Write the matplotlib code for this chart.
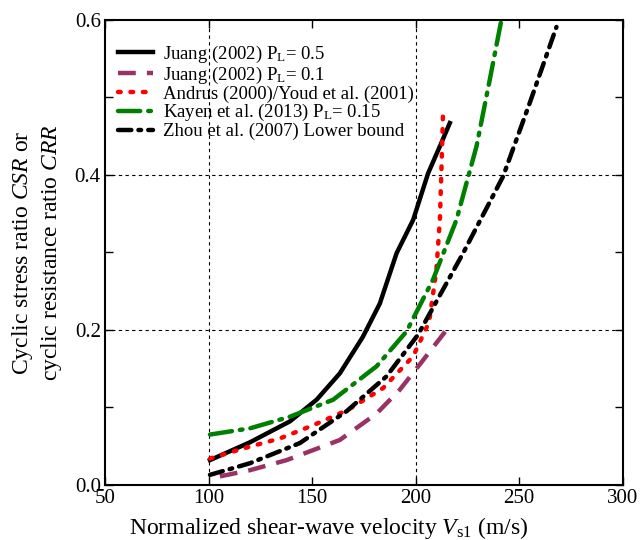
import matplotlib.pyplot as plt
from matplotlib.ticker import MultipleLocator

plt.rcParams['font.family'] = 'Liberation Serif'
plt.rcParams['mathtext.fontset'] = 'custom'
plt.rcParams['mathtext.rm'] = 'Liberation Serif'
plt.rcParams['mathtext.it'] = 'Liberation Serif:italic'

# Juang (2002) PL = 0.5
juang5_vs = [100.7, 120, 139.3, 152.2, 163.4, 174.5, 182.7, 190.8, 198.8, 206, 211.7, 216.5]
juang5_crr = [0.032, 0.055, 0.082, 0.110, 0.144, 0.191, 0.234, 0.299, 0.342, 0.402, 0.437, 0.467]

# Juang (2002) PL = 0.1
juang1_vs = [105.5, 120, 137.7, 163.4, 181.1, 192.4, 203.6, 214.9]
juang1_crr = [0.011, 0.019, 0.032, 0.058, 0.092, 0.123, 0.161, 0.200]

# Andrus (2000) / Youd et al. (2001)
andrus_vs = [100.7, 116.7, 134.5, 150.5, 167.4, 184.3, 198.8, 206.5, 210, 211.7, 212.5, 213.2]
andrus_crr = [0.034, 0.047, 0.060, 0.077, 0.097, 0.125, 0.166, 0.210, 0.277, 0.342, 0.411, 0.478]

# Kayen et al. (2013) PL = 0.15
kayen_vs = [100.7, 120, 139.3, 160.2, 181.1, 195.6, 208.4, 219.7, 229.4, 235.8, 241.4]
kayen_crr = [0.065, 0.073, 0.088, 0.110, 0.153, 0.198, 0.265, 0.342, 0.437, 0.523, 0.600]

# Zhou et al. (2007) lower bound
zhou_vs = [100.7, 120, 144.1, 166.6, 185.9, 201.2, 222.9, 242.2, 255.1, 268]
zhou_crr = [0.013, 0.028, 0.054, 0.095, 0.140, 0.194, 0.299, 0.398, 0.493, 0.591]

fig = plt.figure(figsize=(6.44, 5.4), dpi=100)
ax = fig.add_axes([0.163, 0.102, 0.804, 0.861])

ax.axvline(100, color='black', ls=(0, (3, 3)), lw=0.8, zorder=0)
ax.axvline(200, color='black', ls=(0, (3, 3)), lw=0.8, zorder=0)
ax.axhline(0.2, color='black', ls=(0, (3, 3)), lw=0.8, zorder=0)
ax.axhline(0.4, color='black', ls=(0, (3, 3)), lw=0.8, zorder=0)

ax.plot(juang5_vs, juang5_crr, color='black', lw=3.2, ls='-',
        label='Juang (2002) P$_\\mathrm{L}$= 0.5')
ax.plot(juang1_vs, juang1_crr, color='#993366', lw=3.2, ls=(0, (4, 2.5)),
        label='Juang (2002) P$_\\mathrm{L}$= 0.1')
ax.plot(andrus_vs, andrus_crr, color='red', lw=3.2, ls=(0, (0.6, 2.2)),
        dash_capstyle='round', label='Andrus (2000)/Youd et al. (2001)')
ax.plot(kayen_vs, kayen_crr, color='green', lw=3.2, ls=(0, (5, 1.8, 0.6, 1.8)),
        dash_capstyle='round', label='Kayen et al. (2013) P$_\\mathrm{L}$= 0.15')
ax.plot(zhou_vs, zhou_crr, color='black', lw=3.2, ls=(0, (3, 1.6, 0.6, 1.6)),
        dash_capstyle='round', label='Zhou et al. (2007) Lower bound')

ax.set_xlim(50, 300)
ax.set_ylim(0, 0.6)
ax.xaxis.set_major_locator(MultipleLocator(50))
ax.yaxis.set_major_locator(MultipleLocator(0.2))
ax.yaxis.set_minor_locator(MultipleLocator(0.1))
ax.yaxis.set_major_formatter(plt.FormatStrFormatter('%.1f'))
ax.tick_params(which='both', direction='in', top=True, right=True, labelsize=15)
ax.tick_params(which='major', length=6, width=1, pad=3)
ax.tick_params(which='minor', length=6, width=1)
for s in ax.spines.values():
    s.set_linewidth(1.5)

ax.set_xlabel('Normalized shear-wave velocity $V_\\mathrm{s1}$ (m/s)', fontsize=17)
ax.xaxis.set_label_coords(0.432, -0.065)
ax.set_ylabel('Cyclic stress ratio $CSR$ or\ncyclic resistance ratio $CRR$', fontsize=17, labelpad=8)

ax.legend(loc='upper left', frameon=False, fontsize=13.5, handlelength=1.9,
          labelspacing=-0.02, handletextpad=0.5, bbox_to_anchor=(-0.008, 0.985))

plt.savefig('out.png', dpi=100)
